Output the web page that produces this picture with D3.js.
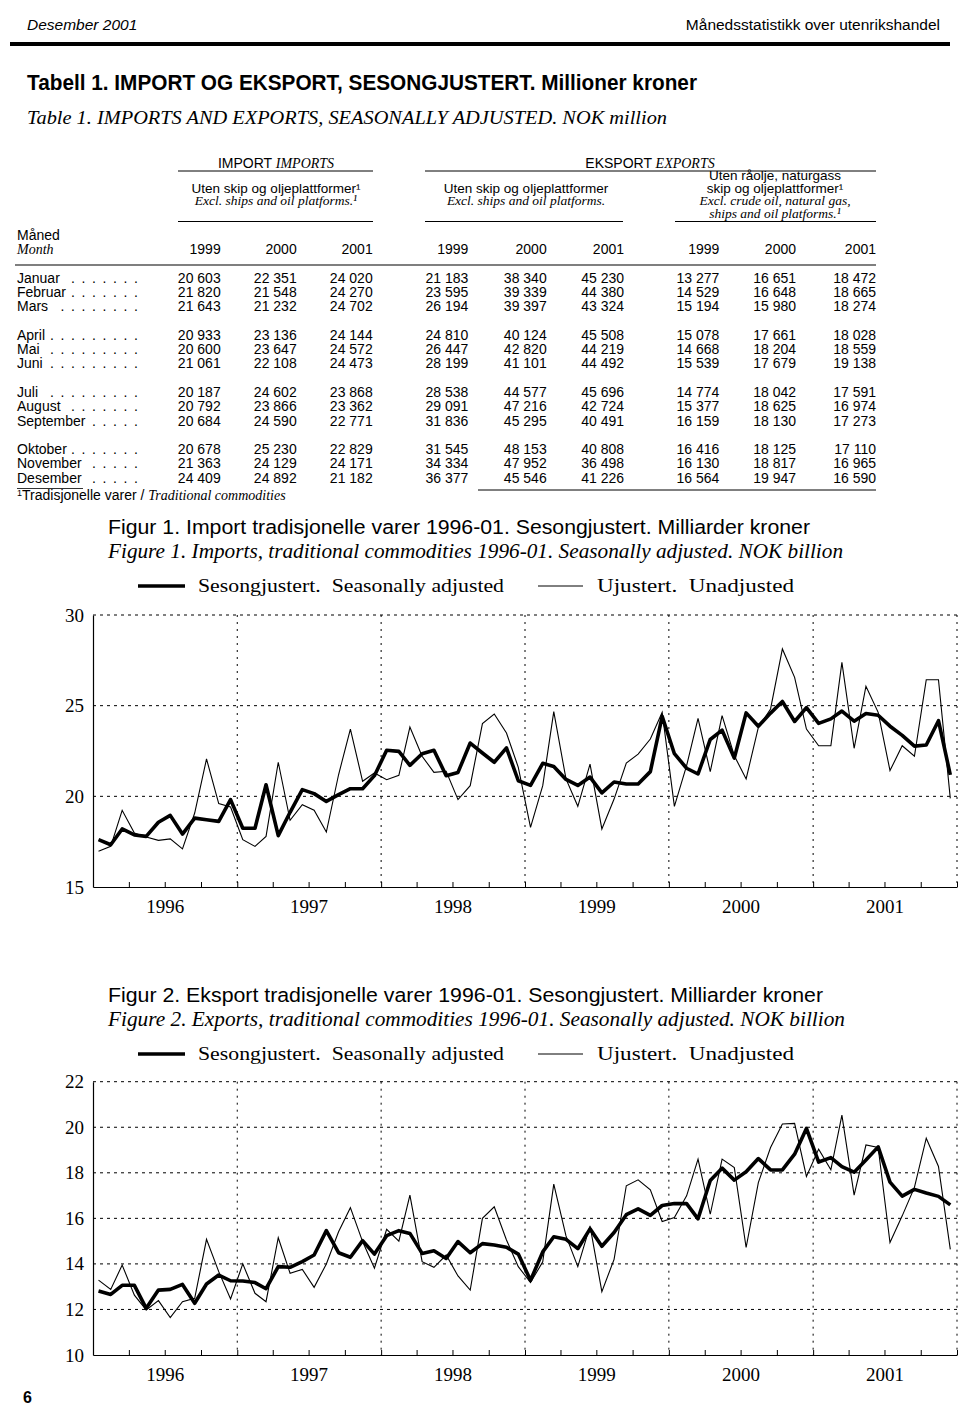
<!DOCTYPE html>
<html>
<head>
<meta charset="utf-8">
<script src="https://cdnjs.cloudflare.com/ajax/libs/d3/7.8.5/d3.min.js"></script>
<style>body{margin:0;background:#fff}</style>
</head>
<body>
<div id="page"></div>
<script>
// table 1, million NOK
var months = ["Januar", "Februar", "Mars", "April", "Mai", "Juni", "Juli", "August", "September", "Oktober", "November", "Desember"];
var tableYears = ["1999", "2000", "2001"];
var imp1999 = [20603, 21820, 21643, 20933, 20600, 21061, 20187, 20792, 20684, 20678, 21363, 24409];
var imp2000 = [22351, 21548, 21232, 23136, 23647, 22108, 24602, 23866, 24590, 25230, 24129, 24892];
var imp2001 = [24020, 24270, 24702, 24144, 24572, 24473, 23868, 23362, 22771, 22829, 24171, 21182];
var exp1999 = [21183, 23595, 26194, 24810, 26447, 28199, 28538, 29091, 31836, 31545, 34334, 36377];
var exp2000 = [38340, 39339, 39397, 40124, 42820, 41101, 44577, 47216, 45295, 48153, 47952, 45546];
var exp2001 = [45230, 44380, 43324, 45508, 44219, 44492, 45696, 42724, 40491, 40808, 36498, 41226];
var trad1999 = [13277, 14529, 15194, 15078, 14668, 15539, 14774, 15377, 16159, 16416, 16130, 16564];
var trad2000 = [16651, 16648, 15980, 17661, 18204, 17679, 18042, 18625, 18130, 18125, 18817, 19947];
var trad2001 = [18472, 18665, 18274, 18028, 18559, 19138, 17591, 16974, 17273, 17110, 16965, 16590];

// figure 1, billion NOK (1996-98 seasonally adjusted, 1999-01 from the table)
var impSa9698 = [17.61, 17.33, 18.20, 17.87, 17.79, 18.57, 18.95, 17.92, 18.80, 18.71, 18.62, 19.82,
                 18.24, 18.24, 20.64, 17.83, 19.12, 20.37, 20.15, 19.72, 20.09, 20.42, 20.42, 21.14,
                 22.54, 22.48, 21.71, 22.35, 22.54, 21.14, 21.32, 22.94, 22.39, 21.88, 22.67, 20.86];
var impRaw = [16.97, 17.24, 19.23, 17.98, 17.76, 17.57, 17.65, 17.10, 19.08, 22.06, 19.60, 19.41,
              17.61, 17.24, 17.79, 21.88, 18.68, 19.54, 19.23, 18.03, 21.19, 23.71, 20.83, 21.29,
              20.92, 21.16, 23.82, 22.21, 21.32, 21.38, 19.82, 20.59, 24.01, 24.54, 23.49, 21.60,
              18.29, 20.59, 24.67, 20.96, 19.45, 21.78, 18.20, 19.85, 21.84, 22.33, 23.16, 24.63,
              19.45, 21.69, 24.30, 21.36, 24.45, 22.24, 20.96, 23.80, 24.82, 28.13, 26.56, 23.71,
              22.79, 22.79, 27.39, 22.65, 26.07, 24.63, 21.42, 22.79, 22.21, 26.43, 26.43, 19.89];

// figure 2, billion NOK
var expSa9698 = [12.81, 12.66, 13.06, 13.06, 12.05, 12.85, 12.88, 13.10, 12.27, 13.12, 13.51, 13.26,
                 13.25, 13.18, 12.91, 13.88, 13.85, 14.10, 14.39, 15.46, 14.49, 14.29, 15.02, 14.43,
                 15.24, 15.46, 15.34, 14.46, 14.58, 14.24, 14.98, 14.49, 14.89, 14.83, 14.73, 14.43];
var expRaw = [13.29, 12.88, 13.95, 12.63, 11.98, 12.39, 11.64, 12.34, 12.49, 15.08, 13.66, 12.46,
              14.00, 12.71, 12.34, 15.15, 13.59, 13.76, 12.97, 14.00, 15.41, 16.47, 14.98, 13.81,
              15.52, 15.00, 17.02, 14.10, 13.85, 14.39, 13.47, 12.85, 16.00, 16.51, 15.05, 13.88,
              13.18, 14.09, 17.50, 15.23, 13.88, 15.67, 12.78, 14.20, 17.43, 17.69, 17.25, 15.86,
              16.04, 16.99, 18.60, 16.18, 18.60, 18.23, 14.72, 17.57, 19.11, 20.14, 20.17, 17.84,
              19.04, 18.13, 20.53, 17.02, 19.22, 19.11, 14.94, 16.11, 17.36, 19.52, 18.28, 14.64];

var fig1Ticks = [15, 20, 25, 30];
var fig2Ticks = [10, 12, 14, 16, 18, 20, 22];

var sans = "'Liberation Sans', Arial, Helvetica, sans-serif";
var serif = "'Liberation Serif', 'Times New Roman', Times, serif";

var s = d3.select("#page").append("svg")
    .attr("width", 960).attr("height", 1409);
s.append("rect").attr("width", 960).attr("height", 1409).attr("fill", "#fff");

// text made of sans / italic serif parts
function label(g, x, y, parts, anchor, size){
    var t = g.append("text")
        .attr("x", x).attr("y", y)
        .attr("text-anchor", anchor || "start")
        .attr("font-size", size || 14)
        .style("white-space", "pre");
    parts.forEach(function(p){
        t.append("tspan")
            .attr("font-family", p[1] == "i" || p[1] == "r" ? serif : sans)
            .attr("font-style", p[1] == "i" || p[1] == "si" ? "italic" : "normal")
            .attr("font-weight", p[1] == "b" ? "bold" : "normal")
            .text(p[0]);
    });
    return t;
}
function rule(x1, x2, y, w){
    s.append("line").attr("x1", x1).attr("x2", x2).attr("y1", y).attr("y2", y)
        .attr("stroke", "#000").attr("stroke-width", w || 1);
}

// page header
label(s, 27, 30, [["Desember 2001", "si"]], "start", 15.5);
label(s, 940, 30, [["Månedsstatistikk over utenrikshandel", "s"]], "end", 15.5);
rule(10, 950, 44, 4);

label(s, 27, 90, [["Tabell 1. IMPORT OG EKSPORT, SESONGJUSTERT. Millioner kroner", "b"]], "start", 21.5)
    .attr("textLength", 670).attr("lengthAdjust", "spacingAndGlyphs");
label(s, 27, 124, [["Table 1. IMPORTS AND EXPORTS, SEASONALLY ADJUSTED. NOK million", "i"]], "start", 19.5)
    .attr("textLength", 640).attr("lengthAdjust", "spacingAndGlyphs");

// table header
label(s, 276, 168, [["IMPORT ", "s"], ["IMPORTS", "i"]], "middle", 14);
label(s, 650, 168, [["EKSPORT ", "s"], ["EXPORTS", "i"]], "middle", 14);
rule(178, 373, 171);
rule(425, 876, 171);

label(s, 276, 192.5, [["Uten skip og oljeplattformer¹", "s"]], "middle", 13.5);
label(s, 276, 205, [["Excl. ships and oil platforms.¹", "i"]], "middle", 13.5);
label(s, 526, 192.5, [["Uten skip og oljeplattformer", "s"]], "middle", 13.5);
label(s, 526, 205, [["Excl. ships and oil platforms.", "i"]], "middle", 13.5);
label(s, 775, 180, [["Uten råolje, naturgass", "s"]], "middle", 13.5);
label(s, 775, 192.5, [["skip og oljeplattformer¹", "s"]], "middle", 13.5);
label(s, 775, 205, [["Excl. crude oil, natural gas,", "i"]], "middle", 13.5);
label(s, 775, 217.5, [["ships and oil platforms.¹", "i"]], "middle", 13.5);
rule(178, 373, 221.5);
rule(425, 623, 221.5);
rule(675, 876, 221.5);

label(s, 17, 239.5, [["Måned", "s"]], "start", 14);
label(s, 17, 254, [["Month", "i"]], "start", 14);

var colRight = [220.7, 296.7, 372.7, 468.3, 546.7, 624, 719.3, 796, 876];
var tableCols = [imp1999, imp2000, imp2001, exp1999, exp2000, exp2001, trad1999, trad2000, trad2001];

s.append("g").selectAll("text")
    .data(colRight)
    .join("text")
    .attr("x", function(d){ return d; })
    .attr("y", 254)
    .attr("text-anchor", "end")
    .attr("font-family", sans).attr("font-size", 14)
    .text(function(d, k){ return tableYears[k % 3]; });
rule(15, 876, 265, 1.2);

// table body
var fmt = d3.formatLocale({decimal: ",", thousands: " ", grouping: [3], currency: ["", ""]}).format(",d");
function rowY(i){ return 282.5 + 14.3 * (i + Math.floor(i / 3)); }

var rows = s.append("g");
months.forEach(function(m, i){
    var t = rows.append("text").attr("x", 17).attr("y", rowY(i))
        .attr("font-family", sans).attr("font-size", 14).text(m);
    var end = 17 + t.node().getComputedTextLength();
    // dot leaders
    for(var dx = 136; dx > end + 4; dx -= 10.5){
        rows.append("text").attr("x", dx).attr("y", rowY(i)).attr("text-anchor", "middle")
            .attr("font-family", sans).attr("font-size", 14).text(".");
    }
});
tableCols.forEach(function(col, c){
    rows.append("g").selectAll("text")
        .data(col)
        .join("text")
        .attr("x", colRight[c])
        .attr("y", function(d, i){ return rowY(i); })
        .attr("text-anchor", "end")
        .attr("font-family", sans).attr("font-size", 14)
        .text(function(d){ return fmt(d); });
});

// footnote
rule(17, 83, 488.5, 0.8);
rule(478, 876, 490, 1);
var fn = label(s, 17, 499.5, [["Tradisjonelle varer / ", "s"], ["Traditional commodities", "i"]], "start", 14);
fn.insert("tspan", "tspan").attr("font-family", sans).attr("font-size", 9).attr("dy", -4).text("1");
fn.selectAll("tspan").filter(function(d, i){ return i == 1; }).attr("dy", 4);

// charts
function drawFigure(o){
    var x = d3.scaleTime().domain([new Date(1996, 0, 1), new Date(2002, 0, 1)]).range([93, 957]);
    var y = d3.scaleLinear().domain(o.domain).range([o.bottom, o.top]);
    var g = s.append("g");

    label(g, 108, o.titleY, [[o.title, "s"]], "start", 20.5)
        .attr("textLength", o.titleW).attr("lengthAdjust", "spacingAndGlyphs");
    label(g, 108, o.titleY + 23.5, [[o.subtitle, "i"]], "start", 20.5)
        .attr("textLength", o.subW).attr("lengthAdjust", "spacingAndGlyphs");

    // legend
    var ly = o.titleY + 52;
    g.append("line").attr("x1", 138).attr("x2", 185).attr("y1", ly).attr("y2", ly)
        .attr("stroke", "#000").attr("stroke-width", 3.5);
    label(g, 198, ly + 6, [["Sesongjustert.  Seasonally adjusted", "r"]], "start", 19)
        .attr("textLength", 306).attr("lengthAdjust", "spacingAndGlyphs");
    g.append("line").attr("x1", 538).attr("x2", 583).attr("y1", ly).attr("y2", ly)
        .attr("stroke", "#000").attr("stroke-width", 1);
    label(g, 597, ly + 6, [["Ujustert.  Unadjusted", "r"]], "start", 19)
        .attr("textLength", 197).attr("lengthAdjust", "spacingAndGlyphs");

    // grid
    g.append("g").selectAll("line")
        .data(o.ticks.slice(1))
        .join("line")
        .attr("x1", 93).attr("x2", 957)
        .attr("y1", function(d){ return y(d); }).attr("y2", function(d){ return y(d); })
        .attr("stroke", "#000").attr("stroke-width", 1).attr("stroke-dasharray", "3,4");
    g.append("g").selectAll("line")
        .data(d3.timeYear.range(new Date(1997, 0, 1), new Date(2002, 0, 2)))
        .join("line")
        .attr("x1", function(d){ return x(d); }).attr("x2", function(d){ return x(d); })
        .attr("y1", o.top).attr("y2", o.bottom)
        .attr("stroke", "#000").attr("stroke-width", 1).attr("stroke-dasharray", "2,5");

    // axes
    var ya = g.append("g").attr("transform", "translate(93,0)")
        .call(d3.axisLeft(y).tickValues(o.ticks).tickSize(0).tickPadding(9));
    ya.attr("font-family", serif).attr("font-size", 19);
    ya.select(".domain").attr("stroke-width", 1.2);

    var xa = g.append("g").attr("transform", "translate(0," + o.bottom + ")")
        .call(d3.axisBottom(x).ticks(d3.timeMonth.every(3)).tickSizeInner(-5).tickSizeOuter(0).tickFormat(""));
    xa.select(".domain").attr("stroke-width", 1.2);

    var yl = g.append("g").attr("transform", "translate(0," + o.bottom + ")")
        .call(d3.axisBottom(x)
            .tickValues(d3.range(1996, 2002).map(function(yr){ return new Date(yr, 6, 1); }))
            .tickFormat(d3.timeFormat("%Y")).tickSize(0).tickPadding(13));
    yl.attr("font-family", serif).attr("font-size", 19);
    yl.select(".domain").remove();

    // series
    var line = d3.line()
        .x(function(d, i){ return x(new Date(1996, i, 15)); })
        .y(function(d){ return y(d); });
    g.append("path").attr("d", line(o.raw))
        .attr("fill", "none").attr("stroke", "#000").attr("stroke-width", 1.1);
    g.append("path").attr("d", line(o.sa))
        .attr("fill", "none").attr("stroke", "#000").attr("stroke-width", 3.6)
        .attr("stroke-linejoin", "round");
}

function toBillion(arr){ return arr.map(function(v){ return v / 1000; }); }

drawFigure({
    title: "Figur 1. Import tradisjonelle varer 1996-01. Sesongjustert. Milliarder kroner",
    subtitle: "Figure 1. Imports, traditional commodities 1996-01. Seasonally adjusted. NOK billion",
    titleY: 534, titleW: 702, subW: 735,
    domain: [15, 30], ticks: fig1Ticks, top: 615, bottom: 887,
    sa: impSa9698.concat(toBillion(imp1999), toBillion(imp2000), toBillion(imp2001)),
    raw: impRaw
});

drawFigure({
    title: "Figur 2. Eksport tradisjonelle varer 1996-01. Sesongjustert. Milliarder kroner",
    subtitle: "Figure 2. Exports, traditional commodities 1996-01. Seasonally adjusted. NOK billion",
    titleY: 1002, titleW: 715, subW: 737,
    domain: [10, 22], ticks: fig2Ticks, top: 1081.7, bottom: 1355,
    sa: expSa9698.concat(toBillion(trad1999), toBillion(trad2000), toBillion(trad2001)),
    raw: expRaw
});

// page number
label(s, 23, 1403, [["6", "b"]], "start", 16);
</script>
</body>
</html>
